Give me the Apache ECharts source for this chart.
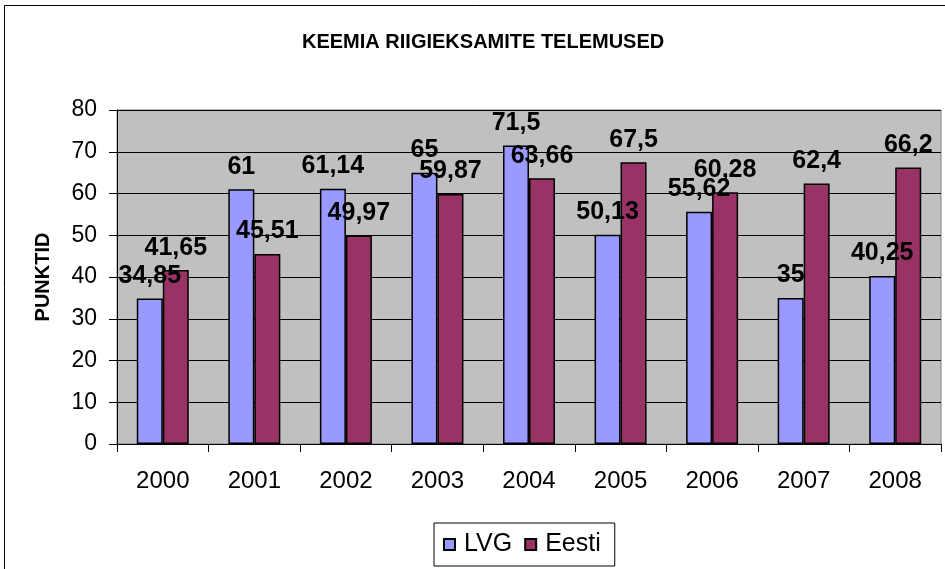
<!DOCTYPE html>
<html lang="et">
<head>
    <meta charset="utf-8">
    <title>Keemia riigieksamite tulemused</title>
    <script src="https://cdn.jsdelivr.net/npm/echarts@6/dist/echarts.min.js"></script>
    <style>
        html, body { margin: 0; padding: 0; background: #fff; }
        #main { width: 945px; height: 569px; }
    </style>
</head>
<body>
<div id="main"></div>
<script type="text/javascript">
    var years = ['2000', '2001', '2002', '2003', '2004', '2005', '2006', '2007', '2008'];
    var lvg = [34.85, 61, 61.14, 65, 71.5, 50.13, 55.62, 35, 40.25];
    var eesti = [41.65, 45.51, 49.97, 59.87, 63.66, 67.5, 60.28, 62.4, 66.2];

    var font = '"Liberation Sans", Arial, sans-serif';

    // koma kümnendkohtade eraldajaks
    var fmt = function (p) {
        return String(p.value).replace('.', ',');
    };

    var labelStyle = {
        show: true,
        position: 'top',
        distance: 10,
        fontFamily: font,
        fontSize: 25,
        fontWeight: 'bold',
        color: '#000',
        formatter: fmt
    };

    var myChart = echarts.init(document.getElementById('main'));

    myChart.setOption({
        animation: false,
        textStyle: { fontFamily: font },
        title: {
            text: 'KEEMIA RIIGIEKSAMITE TELEMUSED',
            left: 297,
            top: 27,
            textStyle: { fontFamily: font, fontSize: 20, fontWeight: 'bold', color: '#000' }
        },
        graphic: [{
            type: 'rect',
            shape: { x: 4.5, y: 5.5, width: 950, height: 580 },
            style: { fill: 'none', stroke: '#000', lineWidth: 1 },
            z: -1
        }],
        legend: {
            data: ['LVG', 'Eesti'],
            left: 434,
            top: 523,
            padding: [9, 14, 9, 9],
            borderColor: '#000',
            borderWidth: 1,
            itemWidth: 11,
            itemHeight: 11,
            itemGap: 12,
            icon: 'rect',
            textStyle: { fontFamily: font, fontSize: 25, color: '#000', padding: [0, 0, 0, 4] }
        },
        grid: {
            left: 117,
            right: 4,
            top: 110,
            bottom: 125,
            show: true,
            backgroundColor: '#C0C0C0',
            borderColor: '#808080',
            borderWidth: 1
        },
        xAxis: {
            type: 'category',
            data: years,
            axisLine: { lineStyle: { color: '#000', width: 1 } },
            axisTick: { show: true, length: 8, lineStyle: { color: '#000' } },
            axisLabel: { margin: 25, fontFamily: font, fontSize: 24, color: '#000' }
        },
        yAxis: {
            type: 'value',
            min: 0,
            max: 80,
            interval: 10,
            name: 'PUNKTID',
            nameLocation: 'middle',
            nameGap: 64,
            nameTextStyle: { fontFamily: font, fontSize: 20, fontWeight: 'bold', color: '#000' },
            axisLine: { show: true, lineStyle: { color: '#000', width: 1 } },
            axisTick: { show: true, length: 8, lineStyle: { color: '#000' } },
            axisLabel: { margin: 20, fontFamily: font, fontSize: 23, color: '#000' },
            splitLine: { show: true, lineStyle: { color: '#000', width: 1 } }
        },
        series: [{
            name: 'LVG',
            type: 'bar',
            data: lvg,
            barWidth: 26,
            barGap: '0%',
            itemStyle: { color: '#9999FF', borderColor: '#000', borderWidth: 1.5 },
            label: labelStyle
        }, {
            name: 'Eesti',
            type: 'bar',
            data: eesti,
            barWidth: 26,
            itemStyle: { color: '#993366', borderColor: '#000', borderWidth: 1.5 },
            label: labelStyle
        }]
    });
</script>
</body>
</html>
